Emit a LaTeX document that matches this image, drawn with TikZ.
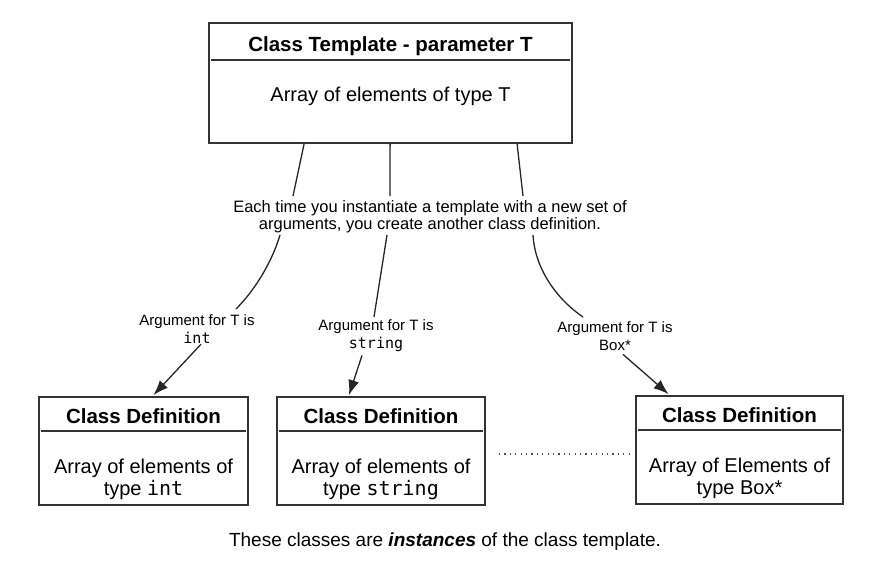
\documentclass[tikz,border=0pt]{standalone}
\usepackage{fontspec}
\setmainfont{Liberation Sans}
\setmonofont{DejaVu Sans Mono}
\usetikzlibrary{arrows.meta,calc}
\begin{document}
\begin{tikzpicture}[x=1pt,y=-1pt,
  boxnode/.style={draw=black!80,line width=1.8pt,inner sep=0pt},
  hdr/.style={draw=black!80,line width=1.5pt},
  titletext/.style={font=\fontsize{20.5}{24}\selectfont\bfseries,inner sep=0pt,anchor=base},
  bodytext/.style={font=\fontsize{20}{22}\selectfont,align=center,inner sep=0pt,anchor=base},
  midtext/.style={font=\fontsize{16.5}{17}\selectfont,align=center,inner sep=0pt,anchor=base},
  labtext/.style={font=\fontsize{15}{18}\selectfont,align=center,inner sep=0pt,anchor=base},
  conn/.style={draw=black!85,line width=1.3pt},
  arr/.style={draw=black!85,line width=1.3pt,-{Latex[length=15pt,width=11pt]}},
  dots/.style={draw=black!70,line width=1.3pt,dash pattern=on 1.2pt off 4.2pt}]
\useasboundingbox (0,0) rectangle (881,568);

% top box
\node[boxnode,minimum width=363pt,minimum height=120pt] (top) at (390.5,83) {};
\draw[hdr] ($(top.north west)+(3,38)$) -- ($(top.north east)+(-3,38)$);
\node[titletext] (toptitle) at ($(top.north)+(0,29)$) {Class Template - parameter T};
\node[bodytext] (topbody) at ($(top.north)+(0,79)$) {Array of elements of type T};

% bottom boxes
\node[boxnode,minimum width=209pt,minimum height=108pt] (b1) at (143.5,451) {};
\node[boxnode,minimum width=208pt,minimum height=108pt] (b2) at (381,451) {};
\node[boxnode,minimum width=207pt,minimum height=108pt] (b3) at (739.5,450) {};
\foreach \b in {b1,b2,b3}{
  \draw[hdr] ($(\b.north west)+(3,35)$) -- ($(\b.north east)+(-3,35)$);
}
\node[titletext] (b1title) at ($(b1.north)+(0,27)$) {Class Definition};
\node[titletext] (b2title) at ($(b2.north)+(0,27)$) {Class Definition};
\node[titletext] (b3title) at ($(b3.north)+(0,27)$) {Class Definition};
\node[bodytext] (b1body) at ($(b1.north)+(0,99)$) {Array of elements of\\type \texttt{int}};
\node[bodytext] (b2body) at ($(b2.north)+(0,99)$) {Array of elements of\\type \texttt{string}};
\node[bodytext] (b3body) at ($(b3.north)+(0,99)$) {Array of Elements of\\type Box*};

% middle text
\node[midtext] (mid) at (430,229) {Each time you instantiate a template with a new set of\\arguments, you create another class definition.};

% labels
\node[labtext] (lab1) at (197,343) {Argument for T is\\\texttt{int}};
\node[labtext] (lab2) at (376,348) {Argument for T is\\\texttt{string}};
\node[labtext] (lab3) at (615,350) {Argument for T is\\Box*};

% connectors top -> mid
\coordinate (t1) at ($(top.south west)+(96,0)$);
\coordinate (t2) at ($(top.south west)+(182,0)$);
\coordinate (t3) at ($(top.south west)+(309,0)$);
\coordinate (m1) at (293,196);
\coordinate (m2) at (390,196);
\coordinate (m3) at (523,196);
\draw[conn] (t1) -- (m1);
\draw[conn] (t2) -- (m2);
\draw[conn] (t3) -- (m3);

% connectors mid -> labels
\coordinate (n1) at (280,235);
\coordinate (n2) at (387,235);
\coordinate (n3) at (533,235);
\coordinate (e1) at (236,309);
\coordinate (e2) at (374,317);
\coordinate (e3) at (583,317);
\draw[conn] (n1) .. controls (272,262) and (255,290) .. (e1);
\draw[conn] (n2) -- (e2);
\draw[conn] (n3) .. controls (535,270) and (558,300) .. (e3);

% arrows labels -> boxes
\draw[arr] ($(lab1.south)+(4,1)$) -- ($(b1.north)+(10,-1)$);
\draw[arr] ($(lab2.south)+(-14,4)$) -- ($(b2.north)+(-32,-1)$);
\draw[arr] ($(lab3.south)+(8,4)$) -- ($(b3.north)+(-71,-1)$);

% dotted
\draw[dots] ($(b2.east)+(13,3)$) -- ($(b3.west)+(-4,4)$);

% caption
\node[font=\fontsize{19}{22}\selectfont,inner sep=0pt,anchor=base] (caption) at (445,546) {These classes are \textbf{\textit{instances}} of the class template.};
\end{tikzpicture}
\end{document}
